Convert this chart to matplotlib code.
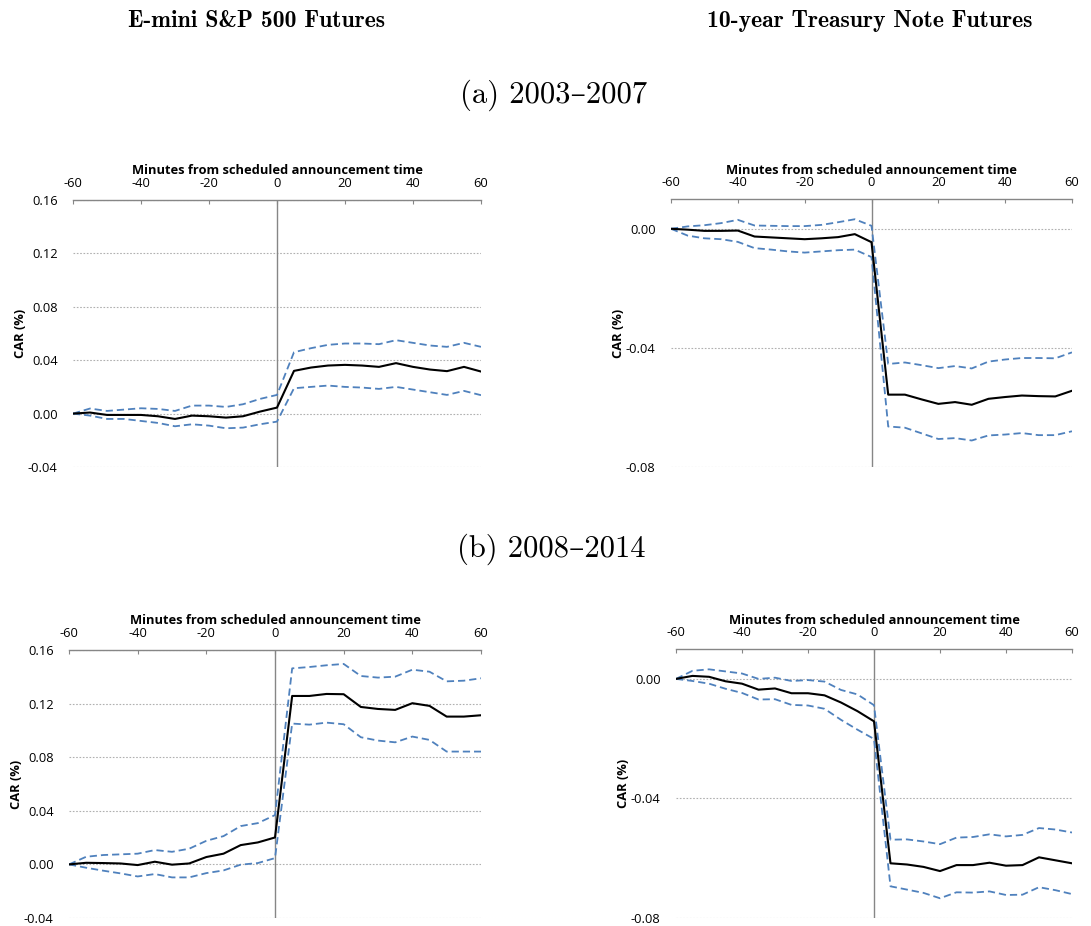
import matplotlib
matplotlib.use("Agg")
import matplotlib.pyplot as plt
from matplotlib.ticker import FormatStrFormatter

# minutes relative to the scheduled announcement
minutes = list(range(-60, 61, 5))

# (a) 2003-2007, E-mini S&P 500
sp_a_car = [0.0, 0.0008, -0.001, -0.001, -0.001, -0.002, -0.004, -0.0015, -0.002, -0.003, -0.002, 0.0015, 0.0045,
            0.032, 0.0345, 0.036, 0.0365, 0.036, 0.035, 0.0378, 0.035, 0.033, 0.0318, 0.035, 0.0315]
sp_a_hi = [0.0, 0.0038, 0.002, 0.003, 0.004, 0.0035, 0.002, 0.006, 0.006, 0.005, 0.007, 0.011, 0.014,
           0.046, 0.049, 0.0515, 0.0525, 0.0525, 0.052, 0.055, 0.053, 0.051, 0.050, 0.053, 0.050]
sp_a_lo = [0.0, -0.0015, -0.004, -0.004, -0.0055, -0.007, -0.0095, -0.008, -0.009, -0.011, -0.0105, -0.008, -0.006,
           0.019, 0.020, 0.021, 0.020, 0.0195, 0.0185, 0.020, 0.018, 0.016, 0.014, 0.017, 0.0138]

# (a) 2003-2007, 10-year Treasury note
ty_a_car = [0.0, -0.0003, -0.0007, -0.0007, -0.0006, -0.0026, -0.0029, -0.0032, -0.0035, -0.0032, -0.0028, -0.0018, -0.0045,
            -0.0557, -0.0557, -0.0573, -0.0588, -0.0582, -0.0591, -0.0571, -0.0565, -0.056, -0.0562, -0.0563, -0.0544]
ty_a_hi = [0.0, 0.0008, 0.0012, 0.0019, 0.003, 0.0011, 0.001, 0.0009, 0.0009, 0.0013, 0.0022, 0.0032, 0.001,
           -0.0454, -0.0449, -0.0458, -0.0468, -0.0461, -0.0469, -0.0446, -0.0439, -0.0434, -0.0434, -0.0435, -0.0415]
ty_a_lo = [0.0, -0.0023, -0.0032, -0.0035, -0.0044, -0.0065, -0.007, -0.0076, -0.008, -0.0076, -0.0072, -0.007, -0.0095,
           -0.0664, -0.0668, -0.0687, -0.0706, -0.0703, -0.0711, -0.0694, -0.0691, -0.0686, -0.0693, -0.0693, -0.068]

# (b) 2008-2014, E-mini S&P 500
sp_b_car = [0.0, 0.0012, 0.001, 0.0007, -0.0005, 0.002, -0.0002, 0.0007, 0.0055, 0.008, 0.0144, 0.0164, 0.0201,
            0.1257, 0.1257, 0.1272, 0.127, 0.1175, 0.116, 0.1153, 0.1203, 0.1183, 0.1103, 0.1103, 0.1113]
sp_b_hi = [0.0, 0.0057, 0.007, 0.0075, 0.008, 0.0107, 0.0094, 0.0117, 0.0176, 0.0211, 0.0286, 0.0308, 0.0368,
           0.1463, 0.1473, 0.1486, 0.1496, 0.1406, 0.1394, 0.1401, 0.1453, 0.1438, 0.1366, 0.1371, 0.1389]
sp_b_lo = [0.0, -0.0025, -0.0047, -0.0067, -0.009, -0.0072, -0.0097, -0.0097, -0.0065, -0.0045, -0.0002, 0.001, 0.0047,
           0.1051, 0.1043, 0.1058, 0.1046, 0.0949, 0.0924, 0.0911, 0.0954, 0.0929, 0.0842, 0.0842, 0.0842]

# (b) 2008-2014, 10-year Treasury note
ty_b_car = [0.0, 0.001, 0.0007, -0.0008, -0.0016, -0.0036, -0.0032, -0.0048, -0.0048, -0.0055, -0.0079, -0.0108, -0.0142,
            -0.0617, -0.0621, -0.0629, -0.0643, -0.0623, -0.0623, -0.0615, -0.0625, -0.0623, -0.0597, -0.0607, -0.0617]
ty_b_hi = [0.0, 0.0027, 0.0032, 0.0025, 0.0018, 0.0, 0.0004, -0.0007, -0.0004, -0.0009, -0.0037, -0.0052, -0.0088,
           -0.0538, -0.0537, -0.0544, -0.0553, -0.0531, -0.0529, -0.052, -0.0527, -0.0522, -0.0499, -0.0504, -0.0514]
ty_b_lo = [0.0, -0.0007, -0.0016, -0.0033, -0.0047, -0.0069, -0.0068, -0.0087, -0.0089, -0.01, -0.0137, -0.017, -0.0201,
           -0.0694, -0.0705, -0.0716, -0.0734, -0.0714, -0.0715, -0.0711, -0.0723, -0.0722, -0.0697, -0.0707, -0.072]

sp_yticks = [-0.04, 0.00, 0.04, 0.08, 0.12, 0.16]
ty_yticks = [-0.08, -0.04, 0.00]
xticks = [-60, -40, -20, 0, 20, 40, 60]

W, H = 1091, 926
GRAY = "#868686"
BLUE = "#4f81bd"
TICKFONT = "Open Sans"
FS = 9.3


def panel(rect, car, hi, lo, ylim, yticks):
    l, t, r, b = rect  # pixel box
    ax = fig.add_axes([l / W, 1 - b / H, (r - l) / W, (b - t) / H])
    ax.plot(minutes, hi, color=BLUE, lw=1.3, dashes=(4, 2.2))
    ax.plot(minutes, lo, color=BLUE, lw=1.3, dashes=(4, 2.2))
    ax.plot(minutes, car, color="black", lw=1.5)
    ax.axvline(0, color=GRAY, lw=1.0, zorder=1)
    ax.set_xlim(-60, 60)
    ax.set_ylim(*ylim)
    ax.set_xticks(xticks)
    ax.set_yticks(yticks)
    ax.xaxis.set_major_formatter(FormatStrFormatter("%d"))
    ax.yaxis.set_major_formatter(FormatStrFormatter("%.2f"))
    ax.grid(axis="y", color="#b0b0b0", lw=0.8, ls=(0, (1.5, 1.5)))
    ax.set_axisbelow(True)
    for s in ["left", "right", "bottom"]:
        ax.spines[s].set_visible(False)
    ax.spines["top"].set_color(GRAY)
    ax.spines["top"].set_linewidth(1.0)
    ax.xaxis.tick_top()
    ax.xaxis.set_label_position("top")
    ax.tick_params(axis="x", direction="in", length=3, color=GRAY, pad=7, labelsize=FS)
    ax.tick_params(axis="y", length=0, pad=11, labelsize=FS)
    for lab in ax.get_xticklabels() + ax.get_yticklabels():
        lab.set_fontfamily(TICKFONT)
    ax.set_xlabel("Minutes from scheduled announcement time", fontfamily=TICKFONT,
                  fontweight="bold", fontsize=FS, labelpad=2)
    ax.set_ylabel("CAR (%)", fontfamily=TICKFONT, fontweight="bold", fontsize=FS, labelpad=1)
    return ax


fig = plt.figure(figsize=(W / 100, H / 100), dpi=100)

panel((73, 200, 481, 467), sp_a_car, sp_a_hi, sp_a_lo, (-0.04, 0.16), sp_yticks)
panel((671, 199, 1072, 467), ty_a_car, ty_a_hi, ty_a_lo, (-0.08, 0.01), ty_yticks)
panel((69, 650, 481, 918), sp_b_car, sp_b_hi, sp_b_lo, (-0.04, 0.16), sp_yticks)
panel((676, 649, 1072, 918), ty_b_car, ty_b_hi, ty_b_lo, (-0.08, 0.01), ty_yticks)

head = dict(family=["cmb10", "DejaVu Serif"], fontsize=17, ha="center", va="baseline")
fig.text(256 / W, 1 - 27 / H, "E-mini S&P 500 Futures", **head)
fig.text(870 / W, 1 - 27 / H, "10-year Treasury Note Futures", **head)

sub = dict(family=["cmr10", "DejaVu Serif"], fontsize=22, ha="center", va="baseline")
fig.text(554 / W, 1 - 103 / H, "(a) 2003\u20132007", **sub)
fig.text(551 / W, 1 - 557 / H, "(b) 2008\u20132014", **sub)

fig.savefig("out.png", dpi=100)
